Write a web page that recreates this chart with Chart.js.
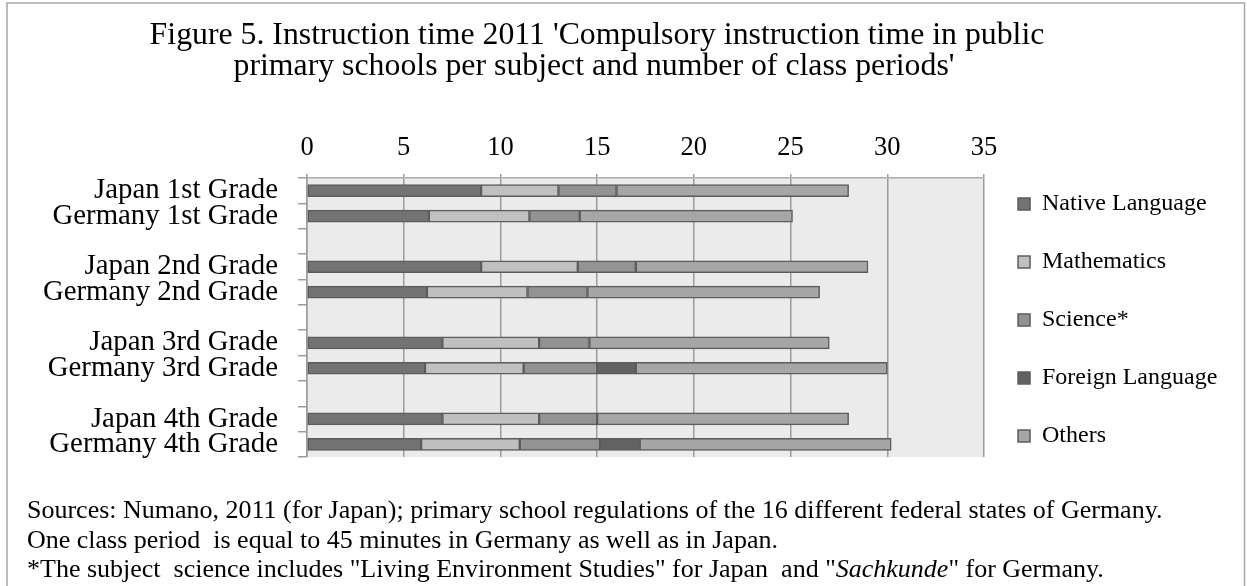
<!DOCTYPE html>
<html>
<head>
<meta charset="utf-8">
<title>Instruction time 2011</title>
<script src="https://cdn.jsdelivr.net/npm/chart.js@4.4.1/dist/chart.umd.min.js"></script>
<style>
  html, body { margin: 0; padding: 0; background: #ffffff; }
  #wrap { position: relative; width: 1247px; height: 586px; }
</style>
</head>
<body>
<div id="wrap"><canvas id="chart" width="1247" height="586"></canvas></div>
<script>
// Rows of the chart (blank rows separate the grade groups)
const categories = [
  'Japan 1st Grade', 'Germany 1st Grade', '',
  'Japan 2nd Grade', 'Germany 2nd Grade', '',
  'Japan 3rd Grade', 'Germany 3rd Grade', '',
  'Japan 4th Grade', 'Germany 4th Grade'
];

// Class periods per week, per subject
const nativeLanguage  = [9,  6.3, null, 9,  6.2, null, 7,    6.1, null, 7,  5.9];
const mathematics     = [4,  5.2, null, 5,  5.2, null, 5,    5.1, null, 5,  5.1];
const science         = [3,  2.6, null, 3,  3.1, null, 2.6,  3.8, null, 3,  4.15];
const foreignLanguage = [null, null, null, null, null, null, null, 2.0, null, null, 2.05];
const others          = [12, 11.0, null, 12, 12.0, null, 12.4, 13.0, null, 13, 13.0];

// Value axis
const axisMin = 0;
const axisMax = 35;
const axisStep = 5;

const seriesNames = ['Native Language', 'Mathematics', 'Science*', 'Foreign Language', 'Others'];

const titleLines = [
  "Figure 5. Instruction time 2011 'Compulsory instruction time in public",
  "primary schools per subject and number of class periods'"
];
const noteLine1 = 'Sources: Numano, 2011 (for Japan); primary school regulations of the 16 different federal states of Germany.';
const noteLine2 = 'One class period  is equal to 45 minutes in Germany as well as in Japan.';
const noteLine3 = [
  { text: '*The subject  science includes "Living Environment Studies" for Japan  and "', italic: false },
  { text: 'Sachkunde', italic: true },
  { text: '" for Germany.', italic: false }
];

const SERIF = '"Liberation Serif", "Times New Roman", serif';
Chart.defaults.font.family = SERIF;
Chart.defaults.color = '#000000';

const EDGE = '#5c5c5c';
function series(label, data, fill) {
  return {
    label: label,
    data: data,
    backgroundColor: fill,
    borderColor: EDGE,
    borderWidth: 1.5,
    borderSkipped: false,
    barThickness: 12
  };
}

// Plot background, outer frame, heading and notes
const figureDecor = {
  id: 'figureDecor',
  beforeDraw(chart) {
    const { ctx, chartArea } = chart;
    ctx.save();
    ctx.fillStyle = '#ebebeb';
    ctx.fillRect(chartArea.left, chartArea.top, chartArea.right - chartArea.left, chartArea.bottom - chartArea.top);
    ctx.restore();
  },
  afterDraw(chart) {
    const { ctx } = chart;
    ctx.save();
    // frame
    ctx.strokeStyle = '#a6a6a6';
    ctx.lineWidth = 1.5;
    ctx.beginPath();
    ctx.moveTo(7, 590);
    ctx.lineTo(7, 3);
    ctx.lineTo(1244.5, 3);
    ctx.lineTo(1244.5, 590);
    ctx.stroke();

    // heading
    ctx.fillStyle = '#000000';
    ctx.textAlign = 'center';
    ctx.textBaseline = 'alphabetic';
    ctx.font = '31.8px ' + SERIF;
    ctx.fillText(titleLines[0], 597, 43.5);
    ctx.fillText(titleLines[1], 594, 75);

    // notes
    ctx.textAlign = 'left';
    ctx.font = '26px ' + SERIF;
    ctx.fillText(noteLine1, 27, 518);
    ctx.fillText(noteLine2, 27, 548);
    let x = 27;
    noteLine3.forEach(part => {
      ctx.font = (part.italic ? 'italic ' : '') + '26px ' + SERIF;
      ctx.fillText(part.text, x, 577);
      x += ctx.measureText(part.text).width;
    });
    ctx.restore();
  }
};

new Chart(document.getElementById('chart'), {
  type: 'bar',
  data: {
    labels: categories,
    datasets: [
      series(seriesNames[0], nativeLanguage, '#737373'),
      series(seriesNames[1], mathematics, '#c0c0c0'),
      series(seriesNames[2], science, '#939393'),
      series(seriesNames[3], foreignLanguage, '#626262'),
      series(seriesNames[4], others, '#a6a6a6')
    ]
  },
  options: {
    indexAxis: 'y',
    responsive: false,
    animation: false,
    devicePixelRatio: 1,
    layout: { padding: { top: 54, right: 19.7, bottom: 0, left: 0 } },
    scales: {
      x: {
        position: 'top',
        stacked: true,
        min: axisMin,
        max: axisMax,
        ticks: { stepSize: axisStep, font: { size: 26.5 }, color: '#000000', padding: 10 },
        grid: { color: '#9c9c9c', lineWidth: 1.5, tickLength: 4 },
        border: { display: true, color: '#ababab', width: 1.5 },
        afterFit(scale) { scale.height = 124; }
      },
      notesSpace: {
        type: 'linear',
        axis: 'x',
        position: 'bottom',
        grid: { display: false },
        ticks: { display: false },
        border: { display: false },
        afterFit(scale) { scale.height = 129; }
      },
      y: {
        stacked: true,
        ticks: { font: { size: 28.8 }, color: '#000000', padding: 20, autoSkip: false },
        grid: { offset: true, drawOnChartArea: false, color: '#9c9c9c', lineWidth: 1.5, tickLength: 9 },
        border: { display: true, color: '#9c9c9c', width: 1.5 },
        afterFit(scale) { scale.width = 307; }
      }
    },
    plugins: {
      legend: {
        position: 'right',
        align: 'center',
        fullSize: true,
        labels: { boxWidth: 12, boxHeight: 12, padding: 34, font: { size: 24 }, color: '#000000' }
      },
      title: { display: false },
      tooltip: { enabled: false }
    }
  },
  plugins: [figureDecor]
});
</script>
</body>
</html>
